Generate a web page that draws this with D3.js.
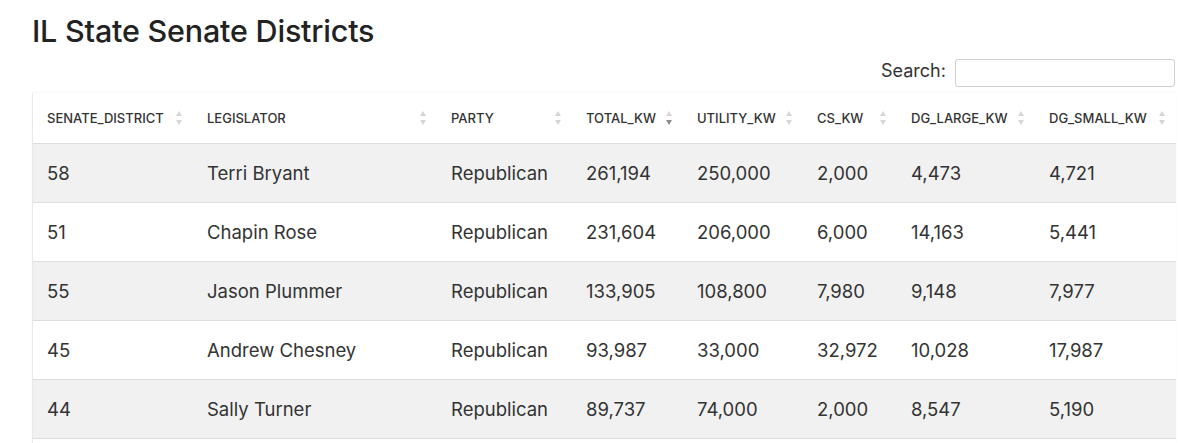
<!DOCTYPE html>
<html>
<head>
<meta charset="utf-8">
<script src="https://cdn.jsdelivr.net/npm/d3@7"></script>
<style>
  html, body { margin: 0; padding: 0; background: #fff; overflow: hidden; }
  body { font-family: Inter, "Noto Sans", sans-serif; color: #333; width: 1200px; height: 443px; position: relative; }
  h2 { position: absolute; left: 32px; top: 12px; margin: 0; font-size: 30.5px; font-weight: 500; color: #222; letter-spacing: -0.2px; }
  .search { position: absolute; left: 881px; top: 59px; font-size: 18px; color: #333; }
  .search span { position: absolute; left: 0; top: 1px; white-space: nowrap; }
  .search input { position: absolute; left: 74px; top: 0; width: 220px; height: 28px; box-sizing: border-box;
                  border: 1px solid #d0d0d0; border-radius: 3px; padding: 0; margin: 0; }
  .wrap { position: absolute; left: 32px; top: 93px; width: 1143px; height: 400px;
          border-left: 1px solid #e8e8e8; box-shadow: 0 -1px 2px rgba(0,0,0,0.04); }
  table { border-collapse: collapse; table-layout: fixed; width: 1143px; }
  th { height: 50px; padding: 0 0 0 14px; text-align: left; font-size: 13px; font-weight: 500; color: #333;
       border-bottom: 1px solid #ddd; position: relative; background: #fff; }
  td { height: 58px; padding: 0 0 0 14px; font-size: 18.5px; color: #333; border-bottom: 1px solid #ddd; }
  tbody tr:nth-child(odd) td { background: #f1f1f1; }
  .sort { position: absolute; right: 10px; top: 17px; width: 8px; height: 16px; }
</style>
</head>
<body>
<h2>IL State Senate Districts</h2>
<div class="search"><span>Search:</span><input type="text"></div>
<div class="wrap"><table></table></div>
<script>
const columns = ["SENATE_DISTRICT", "LEGISLATOR", "PARTY", "TOTAL_KW", "UTILITY_KW", "CS_KW", "DG_LARGE_KW", "DG_SMALL_KW"];
const colWidths = [160, 244, 135, 111, 120, 94, 138, 141];
const sortedColumn = "TOTAL_KW";

const districts = [58, 51, 55, 45, 44];
const legislators = ["Terri Bryant", "Chapin Rose", "Jason Plummer", "Andrew Chesney", "Sally Turner"];
const parties = ["Republican", "Republican", "Republican", "Republican", "Republican"];
const totalKw = [261194, 231604, 133905, 93987, 89737];
const utilityKw = [250000, 206000, 108800, 33000, 74000];
const csKw = [2000, 6000, 7980, 32972, 2000];
const dgLargeKw = [4473, 14163, 9148, 10028, 8547];
const dgSmallKw = [4721, 5441, 7977, 17987, 5190];

const fmt = d3.format(",");
const rows = districts.map((d, i) => [
  d, legislators[i], parties[i],
  fmt(totalKw[i]), fmt(utilityKw[i]), fmt(csKw[i]), fmt(dgLargeKw[i]), fmt(dgSmallKw[i])
]);

let table = d3.select("table");

table.append("colgroup").selectAll("col")
  .data(colWidths)
  .enter().append("col")
  .style("width", d => d + "px");

let th = table.append("thead").append("tr")
  .selectAll("th")
  .data(columns)
  .enter().append("th")
  .text(d => d);

// little up/down sort arrows
th.append("svg").classed("sort", true)
  .attr("viewBox", "0 0 8 16")
  .each(function (d) {
    let s = d3.select(this);
    s.append("path").attr("d", "M4 1 L7 6 L1 6 Z")
      .attr("fill", "#d6d6d6");
    s.append("path").attr("d", "M4 15 L7 10 L1 10 Z")
      .attr("fill", d === sortedColumn ? "#8a8a8a" : "#d6d6d6");
  });

table.append("tbody")
  .selectAll("tr")
  .data(rows)
  .enter().append("tr")
  .selectAll("td")
  .data(d => d)
  .enter().append("td")
  .text(d => d);
</script>
</body>
</html>
